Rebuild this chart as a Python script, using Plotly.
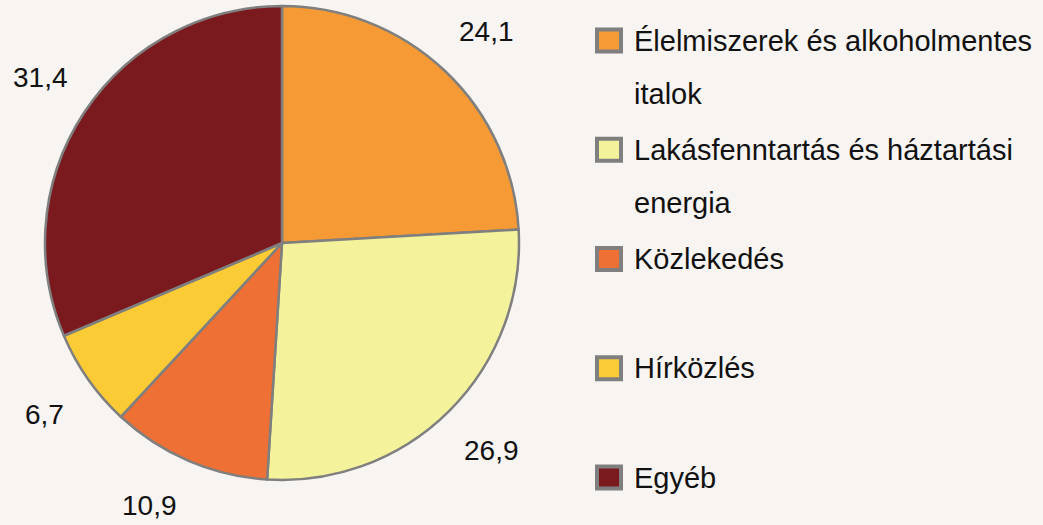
import math
import plotly.graph_objects as go

# ---- data ----
categories = [
    "Élelmiszerek és alkoholmentes italok",
    "Lakásfenntartás és háztartási energia",
    "Közlekedés",
    "Hírközlés",
    "Egyéb",
]
legend_lines = [
    ["Élelmiszerek és alkoholmentes", "italok"],
    ["Lakásfenntartás és háztartási", "energia"],
    ["Közlekedés"],
    ["Hírközlés"],
    ["Egyéb"],
]
values = [24.1, 26.9, 10.9, 6.7, 31.4]
value_labels = ["24,1", "26,9", "10,9", "6,7", "31,4"]
colors = ["#F59A34", "#F4F39B", "#EE7034", "#FBCB36", "#7A1A1E"]

# ---- layout constants ----
OFF = 0                      # body margin removed by post_script below
W, H = 1043 - 2 * OFF, 525 - 2 * OFF
BG = "#F7F4F1"
EDGE = "#7F7F7F"
FONT = "Liberation Sans, Arial, sans-serif"
cx, cy, R = 282, 243, 237          # pie centre / radius in screen px
lab_rx, lab_ry = 248, 234           # ellipse on which value labels are anchored


def px_x(x):
    return min(1.0, max(0.0, (x - OFF) / W))


def px_y(y):
    return min(1.0, max(0.0, 1 - (y - OFF) / H))


def sgn(v):
    return 1 if v >= 0 else -1


fig = go.Figure()
fig.add_trace(go.Pie(
    labels=categories,
    values=values,
    sort=False,
    direction="clockwise",
    rotation=0,
    textinfo="none",
    hoverinfo="label+value",
    marker=dict(colors=colors, line=dict(color=EDGE, width=2.5)),
    domain=dict(x=[px_x(cx - R), px_x(cx + R)],
                y=[px_y(cy + R), px_y(cy - R)]),
    showlegend=False,
))

annotations = []
shapes = []

# value labels outside each slice, along the slice's mid angle
total = sum(values)
cum = 0.0
for v, lab in zip(values, value_labels):
    mid = (cum + v / 2) / total * 2 * math.pi
    cum += v
    s, c = math.sin(mid), math.cos(mid)
    lx = cx + lab_rx * s + 34.5 * sgn(s)
    ly = cy - lab_ry * c - sgn(c) * (20 + 30 * abs(c))
    annotations.append(dict(
        x=px_x(lx), y=px_y(ly), xref="paper", yref="paper",
        text=lab, showarrow=False, xanchor="center", yanchor="middle",
        font=dict(family=FONT, size=28, color="#111111"),
    ))

# legend (symbol aligned with first text line, evenly spaced items)
leg_x_sw0, leg_x_sw1 = 597, 621
leg_text_x = 632
leg_y0, leg_step, line_step = 40.5, 109.25, 53
for i, (lines, col) in enumerate(zip(legend_lines, colors)):
    yc = leg_y0 + i * leg_step
    shapes.append(dict(
        type="rect", xref="paper", yref="paper",
        x0=px_x(leg_x_sw0), x1=px_x(leg_x_sw1),
        y0=px_y(yc - 11), y1=px_y(yc + 11),
        fillcolor=col, line=dict(color=EDGE, width=4),
    ))
    for j, ln in enumerate(lines):
        annotations.append(dict(
            x=px_x(leg_text_x), y=px_y(yc + j * line_step),
            xref="paper", yref="paper", text=ln, showarrow=False,
            xanchor="left", yanchor="middle",
            font=dict(family=FONT, size=29, color="#111111"),
        ))

fig.update_layout(
    width=W, height=H,
    margin=dict(l=0, r=0, t=0, b=0),
    paper_bgcolor=BG, plot_bgcolor=BG,
    annotations=annotations, shapes=shapes,
    showlegend=False,
)

fig.write_html(
    "out.html",
    config={"displayModeBar": False},
    post_script="document.body.style.margin='0';"
                "document.body.style.overflow='hidden';"
                "document.body.style.background='" + BG + "';",
)
